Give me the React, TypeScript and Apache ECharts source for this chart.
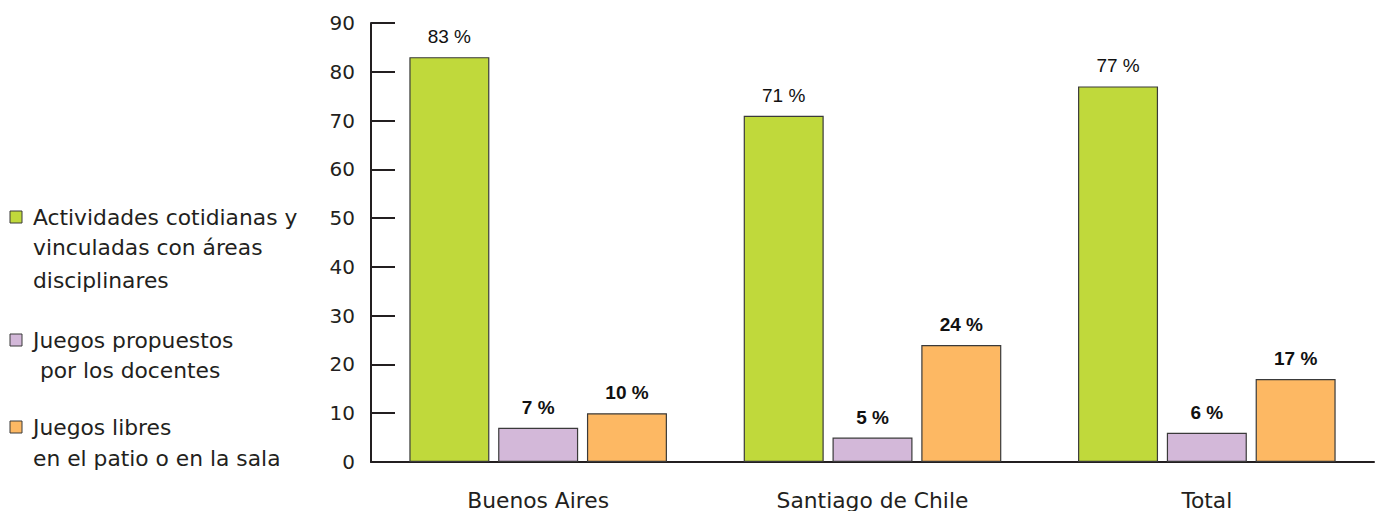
import React, { useEffect, useRef } from "react";
import * as echarts from "echarts";

const categories = ["Buenos Aires", "Santiago de Chile", "Total"];
const seriesNames = [
  "Actividades cotidianas y vinculadas con áreas disciplinares",
  "Juegos propuestos por los docentes",
  "Juegos libres en el patio o en la sala",
];
const actividades = [83, 71, 77];
const juegosPropuestos = [7, 5, 6];
const juegosLibres = [10, 24, 17];
const colors = ["#c0d93b", "#d3b8d9", "#fdb863"];
const legendLines = [
  ["Actividades cotidianas y", "vinculadas con áreas", "disciplinares"],
  ["Juegos propuestos", " por los docentes"],
  ["Juegos libres", "en el patio o en la sala"],
];

const TXT = "#231f20";
const FONT = "'DejaVu Sans', sans-serif";

export default function App() {
  const ref = useRef<HTMLDivElement>(null);
  useEffect(() => {
    document.body.style.margin = "0";
    const chart = echarts.init(ref.current!, undefined, { renderer: "svg" });
    const mk = (name: string, data: number[], color: string, bold: boolean) => ({
      name,
      type: "bar",
      data,
      barWidth: 80,
      barGap: "11%",
      itemStyle: { color, borderColor: "#3a3a3a", borderWidth: 1.2 },
      label: {
        show: true,
        position: "top",
        distance: 11,
        formatter: "{c} %",
        color: "#111",
        fontFamily: "'Liberation Sans', Arial, sans-serif",
        fontSize: 19,
        fontWeight: bold ? "bold" : "normal",
      },
    });
    const legendY = [[217, 247, 280], [340, 370], [427, 458]];
    const graphic: any[] = [];
    legendLines.forEach((lines, i) => {
      graphic.push({
        type: "rect",
        shape: { x: 10, y: legendY[i][0] - 6, width: 12, height: 12 },
        style: { fill: colors[i], stroke: "#3a3a3a", lineWidth: 1 },
      });
      lines.forEach((t, j) => {
        graphic.push({
          type: "text",
          x: 33,
          y: legendY[i][j],
          style: {
            text: t,
            fill: TXT,
            font: `21.8px ${FONT}`,
            verticalAlign: "middle",
          },
        });
      });
    });
    chart.setOption({
      animation: false,
      grid: { left: 371, right: 4, top: 23, bottom: 49 },
      xAxis: {
        type: "category",
        data: categories,
        axisLine: { lineStyle: { color: TXT, width: 2 } },
        axisTick: { inside: true, length: 10, lineStyle: { color: TXT, width: 2 } },
        axisLabel: { color: TXT, fontSize: 21.8, fontFamily: FONT, margin: 27 },
      },
      yAxis: {
        type: "value",
        min: 0,
        max: 90,
        interval: 10,
        splitLine: { show: false },
        axisLine: { show: true, lineStyle: { color: TXT, width: 2 } },
        axisTick: { show: true, inside: true, length: 24, lineStyle: { color: TXT, width: 2 } },
        axisLabel: { color: TXT, fontSize: 20, fontFamily: FONT, margin: 16 },
      },
      graphic,
      series: [
        mk(seriesNames[0], actividades, colors[0], false),
        mk(seriesNames[1], juegosPropuestos, colors[1], true),
        mk(seriesNames[2], juegosLibres, colors[2], true),
      ],
    });
    return () => chart.dispose();
  }, []);
  return <div ref={ref} style={{ width: 1378, height: 511 }} />;
}
